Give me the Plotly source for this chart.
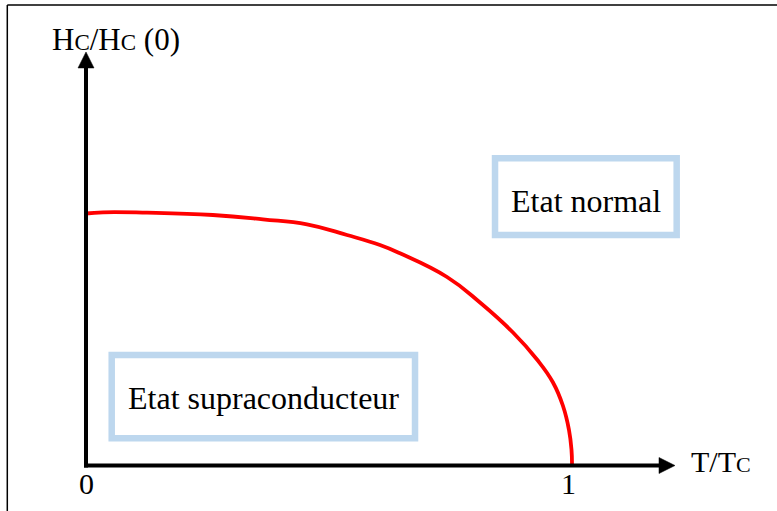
import plotly.graph_objects as go

# Critical field of a type-I superconductor vs reduced temperature
t_ratio = [0.0, 0.035, 0.1255, 0.261, 0.364, 0.4547, 0.537, 0.6049, 0.6461,
           0.7428, 0.8107, 0.8786, 0.928, 0.9609, 0.9815, 0.9938, 0.999, 1.0]
h_ratio = [1.0, 1.0048, 1.0032, 0.994, 0.977, 0.957, 0.9147, 0.875, 0.842,
           0.748, 0.6468, 0.5278, 0.4206, 0.3294, 0.2361, 0.1409, 0.0615, 0.0]

x_ticks = [0, 1]
x_tick_labels = ["0", "1"]
x_title = "T/T<span style='font-size:22px'>C</span>"
y_title = "H<span style='font-size:23px'>C</span>/H<span style='font-size:23px'>C</span> (0)"
region_labels = ["Etat normal", "Etat supraconducteur"]

W, H = 777, 511
X_RANGE = [-86 / 486, (W - 86) / 486]
Y_RANGE = [-45.5 / 252, 465.5 / 252]
SX = W / (X_RANGE[1] - X_RANGE[0])   # pixels per x unit
SY = H / (Y_RANGE[1] - Y_RANGE[0])   # pixels per y unit

FONT = "Liberation Serif, Times New Roman, serif"
BOX_BLUE = "#BDD7EE"

fig = go.Figure()
fig.add_trace(go.Scatter(
    x=t_ratio, y=h_ratio, mode="lines",
    line=dict(color="#FF0000", width=3.8, shape="spline", smoothing=1.3),
    hoverinfo="skip", showlegend=False,
))

shapes = []

# axes drawn as arrows
x_tip = 1.2119
y_tip = 1.641
head_len, head_half = 16, 8
shapes.append(dict(type="line", xref="x", yref="y",
                   x0=-2 / SX, y0=0, x1=x_tip - head_len / SX + 1 / SX, y1=0,
                   line=dict(color="black", width=4)))
shapes.append(dict(type="line", xref="x", yref="y",
                   x0=0, y0=-2 / SY, x1=0, y1=y_tip - head_len / SY + 1 / SY,
                   line=dict(color="black", width=4)))
bx = x_tip - head_len / SX
shapes.append(dict(type="path", xref="x", yref="y",
                   path=f"M {bx},{head_half / SY} L {x_tip},0 L {bx},{-head_half / SY} Z",
                   fillcolor="black", line=dict(color="black", width=0.5)))
by = y_tip - head_len / SY
shapes.append(dict(type="path", xref="x", yref="y",
                   path=f"M {-head_half / SX},{by} L 0,{y_tip} L {head_half / SX},{by} Z",
                   fillcolor="black", line=dict(color="black", width=0.5)))

# region boxes
boxes = [
    dict(x0=0.8416, x1=1.2154, y0=0.9147, y1=1.2194),
    dict(x0=0.0529, x1=0.677, y0=0.1079, y1=0.4385),
]
for b in boxes:
    shapes.append(dict(type="rect", xref="x", yref="y", **b,
                       line=dict(color=BOX_BLUE, width=6.5), fillcolor="rgba(0,0,0,0)"))

# page frame (top and left edges)
shapes.append(dict(type="line", xref="paper", yref="paper",
                   x0=7.3 / W, y0=1 - 5 / H, x1=1, y1=1 - 5 / H,
                   line=dict(color="black", width=1.5)))
shapes.append(dict(type="line", xref="paper", yref="paper",
                   x0=7.3 / W, y0=1 - 5 / H, x1=7.3 / W, y1=0,
                   line=dict(color="black", width=1.5)))

annotations = []
for v, lab in zip(x_ticks, x_tick_labels):
    annotations.append(dict(x=v - (3.5 / SX if v == 1 else 0), y=-0.073, text=lab,
                            xref="x", yref="y", showarrow=False,
                            xanchor="center", yanchor="middle",
                            font=dict(family=FONT, size=30, color="black")))
annotations.append(dict(x=1.240, y=0.014, text=x_title, xref="x", yref="y",
                        showarrow=False, xanchor="left", yanchor="middle",
                        font=dict(family=FONT, size=30, color="black")))
annotations.append(dict(x=-0.074, y=1.69, text=y_title, xref="x", yref="y",
                        showarrow=False, xanchor="left", yanchor="middle",
                        font=dict(family=FONT, size=31, color="black")))
annotations.append(dict(x=1.0288, y=1.0516, text=region_labels[0], xref="x", yref="y",
                        showarrow=False, xanchor="center", yanchor="middle",
                        font=dict(family=FONT, size=32, color="black")))
annotations.append(dict(x=0.3642, y=0.2698, text=region_labels[1], xref="x", yref="y",
                        showarrow=False, xanchor="center", yanchor="middle",
                        font=dict(family=FONT, size=32, color="black")))

fig.update_layout(
    width=W, height=H,
    margin=dict(l=0, r=0, t=0, b=0),
    paper_bgcolor="white", plot_bgcolor="white",
    xaxis=dict(range=X_RANGE, visible=False, fixedrange=True),
    yaxis=dict(range=Y_RANGE, visible=False, fixedrange=True),
    shapes=shapes, annotations=annotations,
    showlegend=False,
)

fig.write_html("out.html", config={"displayModeBar": False})
